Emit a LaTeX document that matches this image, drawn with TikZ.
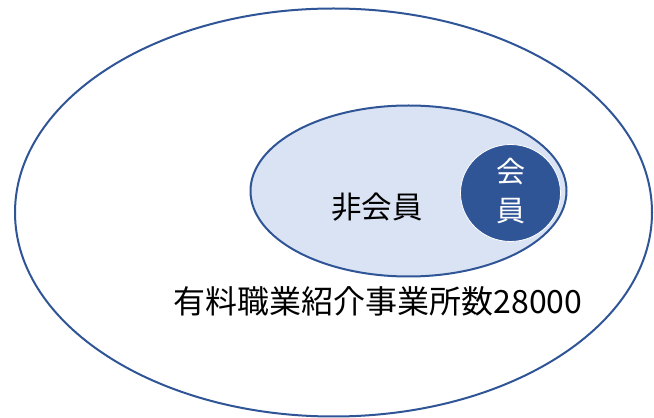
\documentclass[tikz,border=0pt]{standalone}
\usepackage{fontspec}
\setmainfont{Noto Sans CJK JP}
\usetikzlibrary{shapes.geometric}
\definecolor{edgeblue}{HTML}{2F5597}
\definecolor{lightblue}{HTML}{DAE3F3}
\tikzset{
  setshape/.style={ellipse, draw=edgeblue, line width=2pt, inner sep=0pt, outer sep=0pt},
  lbl/.style={inner sep=0pt, font=\fontsize{30.5pt}{36pt}\selectfont}
}
\begin{document}
\begin{tikzpicture}[x=1pt,y=1pt]
\useasboundingbox (0,0) rectangle (654,418);
\node[setshape, fill=white, minimum width=637pt, minimum height=408pt] (all) at (333.5,205.5) {};
\node[setshape, fill=lightblue, minimum width=316pt, minimum height=171pt] (non) at (408.5,227) {};
\node[ellipse, fill=edgeblue, draw=white, line width=0.8pt, inner sep=0pt, minimum width=100pt, minimum height=97pt] (mem) at (510.5,225) {};
\node[lbl] (nonlbl) at (377,211) {非会員};
\node[lbl, text=white, font=\fontsize{29pt}{39.5pt}\selectfont, align=center] (memlbl) at (511,227) {会\\員};
\node[lbl, font=\fontsize{32pt}{38pt}\selectfont] (total) at (378,116.5) {有料職業紹介事業所数28000};
\end{tikzpicture}
\end{document}
